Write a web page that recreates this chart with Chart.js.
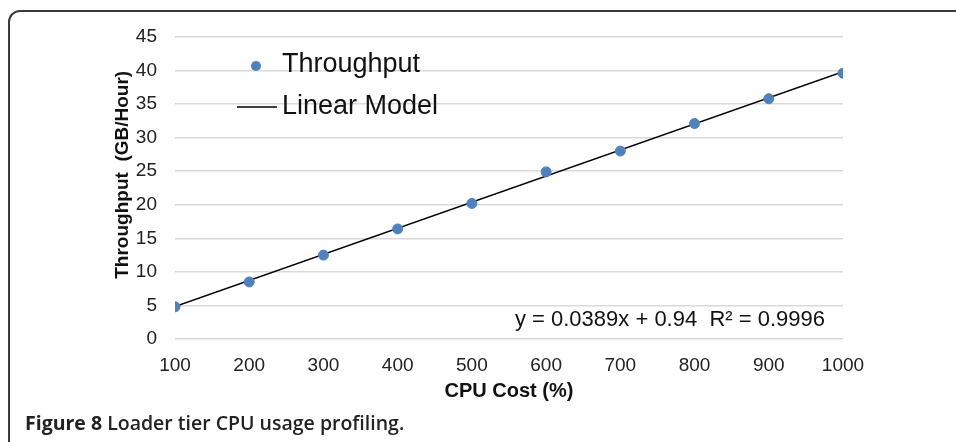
<!DOCTYPE html>
<html>
<head>
<meta charset="utf-8">
<script src="https://cdn.jsdelivr.net/npm/chart.js@4.4.1/dist/chart.umd.min.js"></script>
<style>
    html, body { margin: 0; padding: 0; background: #fff; overflow: hidden; }
    .frame {
        position: absolute; left: 8px; top: 10px; width: 1000px; height: 500px;
        border: 2px solid #3a3a3a; border-radius: 12px; box-sizing: border-box;
    }
    #chartWrap { position: absolute; left: 0; top: 0; width: 956px; height: 442px; }
    .caption {
        position: absolute; left: 25px; top: 409px;
        font-family: "Open Sans", sans-serif; font-weight: 700; font-size: 19.5px; color: #222;
        white-space: nowrap;
    }
</style>
</head>
<body>
<div class="frame"></div>
<div id="chartWrap"><canvas id="cpuChart" width="956" height="442"></canvas></div>
<div class="caption">Figure 8 <span style="font-weight:600">Loader tier CPU usage profiling.</span></div>
<script>
// --- data ---
const cpuCost = [100, 200, 300, 400, 500, 600, 700, 800, 900, 1000];
const throughput = [4.8, 8.5, 12.5, 16.4, 20.2, 24.9, 28.0, 32.1, 35.8, 39.6];
const modelX = [100, 1000];
const modelY = [4.83, 39.84];
const xRange = [100, 1000, 100];
const yRange = [0, 45, 5];
const fitLabel = 'y = 0.0389x + 0.94  R² = 0.9996';

const FONT = '"Liberation Sans", Arial, sans-serif';

// legend drawn inside the plot, Excel style
const innerLegend = {
    id: 'innerLegend',
    afterDraw(chart) {
        const { ctx, chartArea } = chart;
        const ds = chart.data.datasets;
        ctx.save();
        ctx.font = '27px ' + FONT;
        ctx.textBaseline = 'middle';
        // Throughput marker
        ctx.beginPath();
        ctx.arc(chartArea.left + 81, chartArea.top + 29, 5, 0, Math.PI * 2);
        ctx.fillStyle = ds[0].backgroundColor;
        ctx.fill();
        ctx.fillStyle = '#111';
        ctx.fillText(ds[0].label, chartArea.left + 107, chartArea.top + 28);
        // Linear model line
        ctx.beginPath();
        ctx.moveTo(chartArea.left + 62, chartArea.top + 70);
        ctx.lineTo(chartArea.left + 102, chartArea.top + 70);
        ctx.strokeStyle = '#000';
        ctx.lineWidth = 1.5;
        ctx.stroke();
        ctx.fillText(ds[1].label, chartArea.left + 107, chartArea.top + 70);
        // regression label
        ctx.font = '22px ' + FONT;
        ctx.textAlign = 'right';
        ctx.fillText(fitLabel, chartArea.right - 18, chartArea.bottom - 19);
        ctx.restore();
    }
};

new Chart(document.getElementById('cpuChart'), {
    type: 'scatter',
    data: {
        datasets: [{
            label: 'Throughput',
            data: cpuCost.map((x, i) => ({ x, y: throughput[i] })),
            backgroundColor: '#4F81BD',
            borderColor: '#4F81BD',
            pointRadius: 5,
            pointHoverRadius: 5,
            order: 1
        }, {
            label: 'Linear Model',
            data: modelX.map((x, i) => ({ x, y: modelY[i] })),
            showLine: true,
            borderColor: '#000',
            borderWidth: 1.5,
            pointRadius: 0,
            order: 2
        }]
    },
    options: {
        responsive: false,
        animation: false,
        layout: { padding: { top: 37, right: 113, left: 0, bottom: 0 } },
        plugins: { legend: { display: false }, tooltip: { enabled: false } },
        scales: {
            x: {
                type: 'linear',
                min: xRange[0], max: xRange[1],
                afterFit(scale) { scale.height = 103; },
                grid: { display: false },
                border: { display: false },
                ticks: {
                    stepSize: xRange[2], color: '#222', padding: 7,
                    font: { family: FONT, size: 19 },
                    callback: v => String(v)
                },
                title: {
                    display: true, text: 'CPU Cost (%)', color: '#111',
                    font: { family: FONT, size: 20, weight: 'bold' },
                    padding: { top: 0, bottom: 39 }
                }
            },
            y: {
                min: yRange[0], max: yRange[1],
                afterFit(scale) { scale.width = 175; },
                grid: { color: '#d9d9d9', lineWidth: 1.5, drawTicks: false },
                border: { display: false },
                ticks: { stepSize: yRange[2], color: '#222', padding: 18, font: { family: FONT, size: 19 } },
                title: {
                    display: true, text: '     Throughput  (GB/Hour)', color: '#111',
                    font: { family: FONT, size: 19, weight: 'bold' },
                    padding: { top: 111, bottom: 0 }
                }
            }
        }
    },
    plugins: [innerLegend]
});
</script>
</body>
</html>
